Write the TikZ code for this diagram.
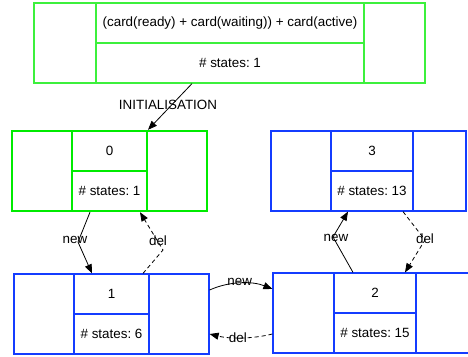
\documentclass[tikz,border=0pt]{standalone}
\usepackage{fontspec}
\setmainfont{Liberation Sans}
\usetikzlibrary{arrows.meta}
\definecolor{invgreen}{RGB}{60,240,60}
\definecolor{initgreen}{RGB}{0,235,0}
\definecolor{stblue}{RGB}{20,60,255}
\frenchspacing
\begin{document}
\begin{tikzpicture}[x=1pt,y=-1pt,
  txt/.style={font=\fontsize{13.4}{15}\selectfont, text=black},
  outer/.style={draw, minimum width=195pt, minimum height=80pt, inner sep=0pt},
  cell/.style={draw, minimum height=40pt, inner sep=0pt, txt},
  invln/.style={draw=invgreen, line width=1.2pt},
  blueln/.style={draw=stblue, line width=1.2pt},
  greenln/.style={draw=initgreen, line width=2.4pt},
  arr/.style={-{Triangle[length=9pt,width=7pt]}, line width=0.8pt},
  darr/.style={arr, dashed, dash pattern=on 4pt off 3pt},
  lbl/.style={txt, inner sep=0pt}]
\useasboundingbox (0,0) rectangle (468,356);

% initialisation state
\node[outer, invln, minimum width=391pt] (top) at (229.5,43) {};
\node[cell, invln, minimum width=268pt] (topt) at (230,23) {(card(ready) + card(waiting)) + card(active)};
\node[cell, invln, minimum width=268pt] (topc) at (230,63) {\# states: 1};

% state 0
\node[outer, greenln] (b0) at (109.5,171) {};
\node[cell, greenln, minimum width=75pt] (b0t) at (109.5,151) {0};
\node[cell, greenln, minimum width=75pt] (b0c) at (109.5,191) {\# states: 1};

% state 1
\node[outer, blueln] (b1) at (111.5,314) {};
\node[cell, blueln, minimum width=75pt] (b1t) at (111.5,294) {1};
\node[cell, blueln, minimum width=75pt] (b1c) at (111.5,334) {\# states: 6};

% state 3
\node[outer, blueln] (b3) at (368.5,171) {};
\node[cell, blueln, minimum width=82pt] (b3t) at (372,151) {3};
\node[cell, blueln, minimum width=82pt] (b3c) at (372,191) {\# states: 13};

% state 2 (runs past the right edge)
\node[outer, blueln, minimum width=201pt] (b2) at (373.5,313) {};
\node[cell, blueln, minimum width=82pt] (b2t) at (375,293) {2};
\node[cell, blueln, minimum width=82pt] (b2c) at (375,333) {\# states: 15};

% transitions
\draw[arr] ([xshift=-37.5pt]top.south) -- node[lbl, xshift=-2pt, yshift=2pt] {INITIALISATION} ([xshift=38.5pt]b0.north);

\draw[arr] ([xshift=-19.5pt]b0.south) -- (78,242) node[lbl, xshift=-3pt, yshift=2pt] {new} -- ([xshift=-19.5pt]b1.north);
\draw[darr] ([xshift=31.5pt]b1.north) -- (163,250) node[lbl, xshift=-5pt, yshift=9pt] {del} -- ([xshift=30.5pt]b0.south);

\draw[arr] ([xshift=-20.5pt]b2.north) -- (333,237) node[lbl, xshift=3pt, yshift=-1pt] {new} -- ([xshift=-20.5pt]b3.south);
\draw[darr] ([xshift=34.5pt]b3.south) -- (425,240) node[lbl, yshift=1pt] {del} -- ([xshift=31.5pt]b2.north);

\draw[arr] ([yshift=24pt]b1.east) .. controls +(20,-9) and +(-20,-8) .. node[lbl, pos=0.48, yshift=1pt] {new} ([yshift=24pt]b2.west);
\draw[darr] ([yshift=-21pt]b2.west) .. controls +(-20,5) and +(20,5) .. node[lbl, pos=0.55] {del} ([yshift=-20pt]b1.east);
\end{tikzpicture}
\end{document}
